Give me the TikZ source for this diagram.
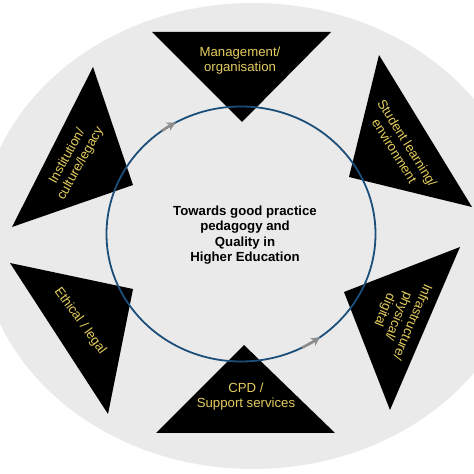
\documentclass[tikz,border=0pt]{standalone}
\usepackage{fontspec}
\setmainfont{Liberation Sans}
\usetikzlibrary{arrows.meta,calc}
\definecolor{discgrey}{RGB}{234,234,234}
\definecolor{ringblue}{RGB}{28,78,122}
\definecolor{factoryellow}{RGB}{228,204,92}
\definecolor{flowgrey}{RGB}{140,140,140}

\begin{document}
\begin{tikzpicture}[x=1pt, y=1pt, >=Stealth]
        \tikzset{wedge/.style={fill=black},
          factor/.style={text=factoryellow, align=center, inner sep=0pt, font=\fontsize{13.2}{15}\selectfont},
          flow/.style={draw=flowgrey, line width=2.6pt, -{Stealth[length=9pt, width=9pt]}}}
        \useasboundingbox (0,0) rectangle (474,474);
        \begin{scope}
          \clip (0,0) rectangle (474,474);
          \fill[discgrey] (253,238) ellipse [x radius=273, y radius=233];
        \end{scope}
        \fill[wedge] (152,442) -- (331,442) -- (242,352) -- cycle;
        \fill[wedge] (379,419) -- (472,267) -- (349,297) -- cycle;
        \fill[wedge] (93,407) -- (12,247) -- (133,289) -- cycle;
        \fill[wedge] (10,211) -- (133,185) -- (108,60) -- cycle;
        \fill[wedge] (244,129) -- (156,41) -- (335,41) -- cycle;
        \fill[wedge] (344,182) -- (460,227) -- (390,64) -- cycle;
        \coordinate (c) at (241,240);
        \draw[ringblue, line width=1.8pt] (c) ellipse [x radius=134.5, y radius=127.5];
        \draw[flow] ($(c)+(126:134.5 and 127.5)$) arc[start angle=126, end angle=119, x radius=134.5, y radius=127.5];
        \draw[flow] ($(c)+(-63:134.5 and 127.5)$) arc[start angle=-63, end angle=-54, x radius=134.5, y radius=127.5];
        \node[factor] (mgmt) at (240,413) {Management/\\organisation};
        \node[factor, rotate=-58] (student) at (401,327) {Student learning/\\environment};
        \node[factor, rotate=61] (inst) at (74,314) {Institution/\\culture/legacy};
        \node[factor, rotate=-54] (ethic) at (80,153) {Ethical / legal};
        \node[factor] (cpd) at (246,77) {CPD /\\Support services};
        \node[factor, rotate=-113] (infra) at (398,158) {Infrastructure/\\physical/\\digital};
        \node[align=center, inner sep=0pt, font=\fontsize{13.2}{15.3}\selectfont\bfseries] (goal) at (245,239) {Towards good practice\\pedagogy and\\Quality in\\Higher Education};
    \end{tikzpicture}
\end{document}
